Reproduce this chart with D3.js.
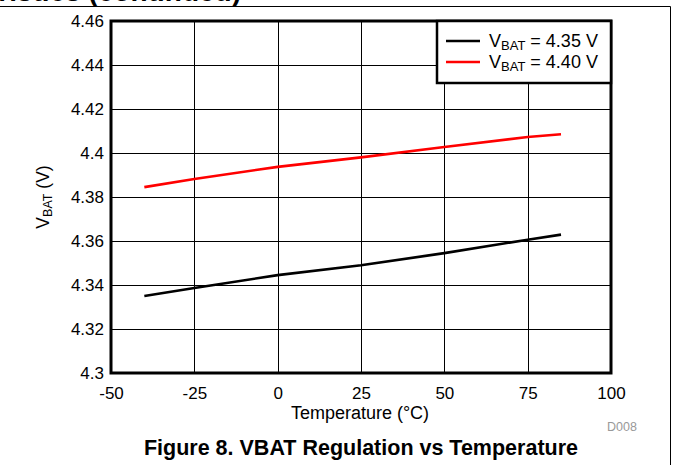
<!DOCTYPE html>
<html><head><meta charset="utf-8">
<script src="https://cdn.jsdelivr.net/npm/d3@7"></script>
<style>body{margin:0;background:#fff;overflow:hidden} svg{display:block} text{font-family:"Liberation Sans",Arial,sans-serif}</style>
</head><body><svg id="c" width="673" height="465"></svg>
<script>
const temps = [-40, -25, 0, 25, 50, 75, 85];
const vbat435 = [4.335, 4.3386, 4.3445, 4.349, 4.3545, 4.3606, 4.3629];
const vbat440 = [4.3845, 4.3882, 4.3937, 4.398, 4.4027, 4.4073, 4.4085];
const xTicks = [-50, -25, 0, 25, 50, 75, 100];
const xTickLabels = ["-50", "-25", "0", "25", "50", "75", "100"];
const yTicks = [4.3, 4.32, 4.34, 4.36, 4.38, 4.4, 4.42, 4.44, 4.46];
const yTickLabels = ["4.3", "4.32", "4.34", "4.36", "4.38", "4.4", "4.42", "4.44", "4.46"];
const seriesLabels = ["4.35 V", "4.40 V"];
const seriesColors = ["#000000", "#ff0000"];

const svg = d3.select("#c");
const L = 111, R = 611, T = 21, B = 373;
const x = d3.scaleLinear().domain([-50, 100]).range([L, R]);
const y = d3.scaleLinear().domain([4.3, 4.46]).range([B, T]);

// page header remnant and frame
svg.append("text").attr("x", 241).attr("y", 0.5).attr("text-anchor", "end")
  .attr("font-size", 28).attr("font-weight", "bold").attr("fill", "#000")
  .text("Typical Characteristics (continued)");
svg.append("path").attr("d", `M0,6.5H670.5V465`).attr("fill", "none").attr("stroke", "#000").attr("stroke-width", 1);

// grid
const g = svg.append("g");
g.selectAll(".vg").data(xTicks.slice(1, -1)).join("line")
  .attr("x1", d => Math.round(x(d)) + 0.5).attr("x2", d => Math.round(x(d)) + 0.5)
  .attr("y1", T).attr("y2", B).attr("stroke", "#000").attr("stroke-width", 1);
g.selectAll(".hg").data(yTicks.slice(1, -1)).join("line")
  .attr("y1", d => Math.round(y(d)) + 0.5).attr("y2", d => Math.round(y(d)) + 0.5)
  .attr("x1", L).attr("x2", R).attr("stroke", "#000").attr("stroke-width", 1);

// axes (labels only)
const xAxis = d3.axisBottom(x).tickValues(xTicks).tickSize(0).tickPadding(14).tickFormat((d, i) => xTickLabels[i]);
const ax = svg.append("g").attr("transform", `translate(0,${B})`).call(xAxis);
ax.select(".domain").remove();
ax.selectAll("text").attr("font-size", 17).attr("fill", "#000").attr("font-family", "Liberation Sans, Arial, sans-serif");

const yAxis = d3.axisLeft(y).tickValues(yTicks).tickSize(0).tickPadding(7).tickFormat((d, i) => yTickLabels[i]);
const ay = svg.append("g").attr("transform", `translate(${L},0)`).call(yAxis);
ay.select(".domain").remove();
ay.selectAll("text").attr("font-size", 17).attr("fill", "#000").attr("font-family", "Liberation Sans, Arial, sans-serif");

// lines
const line = d3.line().x((d, i) => x(temps[i])).y(d => y(d));
[vbat435, vbat440].forEach((s, k) => {
  svg.append("path").datum(s).attr("d", line).attr("fill", "none")
    .attr("stroke", seriesColors[k]).attr("stroke-width", 2.6);
});

// plot border
svg.append("rect").attr("x", L).attr("y", T).attr("width", R - L).attr("height", B - T)
  .attr("fill", "none").attr("stroke", "#000").attr("stroke-width", 3);

// legend
const lg = svg.append("g");
lg.append("rect").attr("x", 437).attr("y", T).attr("width", R - 437).attr("height", 62)
  .attr("fill", "#fff").attr("stroke", "#000").attr("stroke-width", 2.5);
seriesLabels.forEach((lab, k) => {
  const yy = 41 + k * 21;
  lg.append("line").attr("x1", 446).attr("x2", 480).attr("y1", yy).attr("y2", yy)
    .attr("stroke", seriesColors[k]).attr("stroke-width", 2.6);
  const t = lg.append("text").attr("x", 489).attr("y", yy + 6).attr("font-size", 18).attr("fill", "#000");
  t.append("tspan").text("V");
  t.append("tspan").attr("font-size", 13).attr("dy", 3).text("BAT");
  t.append("tspan").attr("dy", -3).text(" = " + lab);
});

// axis titles
svg.append("text").attr("x", 360).attr("y", 419).attr("text-anchor", "middle")
  .attr("font-size", 18).attr("fill", "#000").text("Temperature (\u00B0C)");
const yt = svg.append("text").attr("transform", "translate(49,197) rotate(-90)")
  .attr("text-anchor", "middle").attr("font-size", 17.5).attr("fill", "#000");
yt.append("tspan").text("V");
yt.append("tspan").attr("font-size", 12.5).attr("dy", 3).text("BAT");
yt.append("tspan").attr("dy", -3).text(" (V)");

svg.append("text").attr("x", 622).attr("y", 431).attr("text-anchor", "middle")
  .attr("font-size", 12.5).attr("fill", "#999").text("D008");

svg.append("text").attr("x", 361).attr("y", 455).attr("text-anchor", "middle")
  .attr("font-size", 21.5).attr("font-weight", "bold").attr("fill", "#000")
  .text("Figure 8. VBAT Regulation vs Temperature");
</script></body></html>
